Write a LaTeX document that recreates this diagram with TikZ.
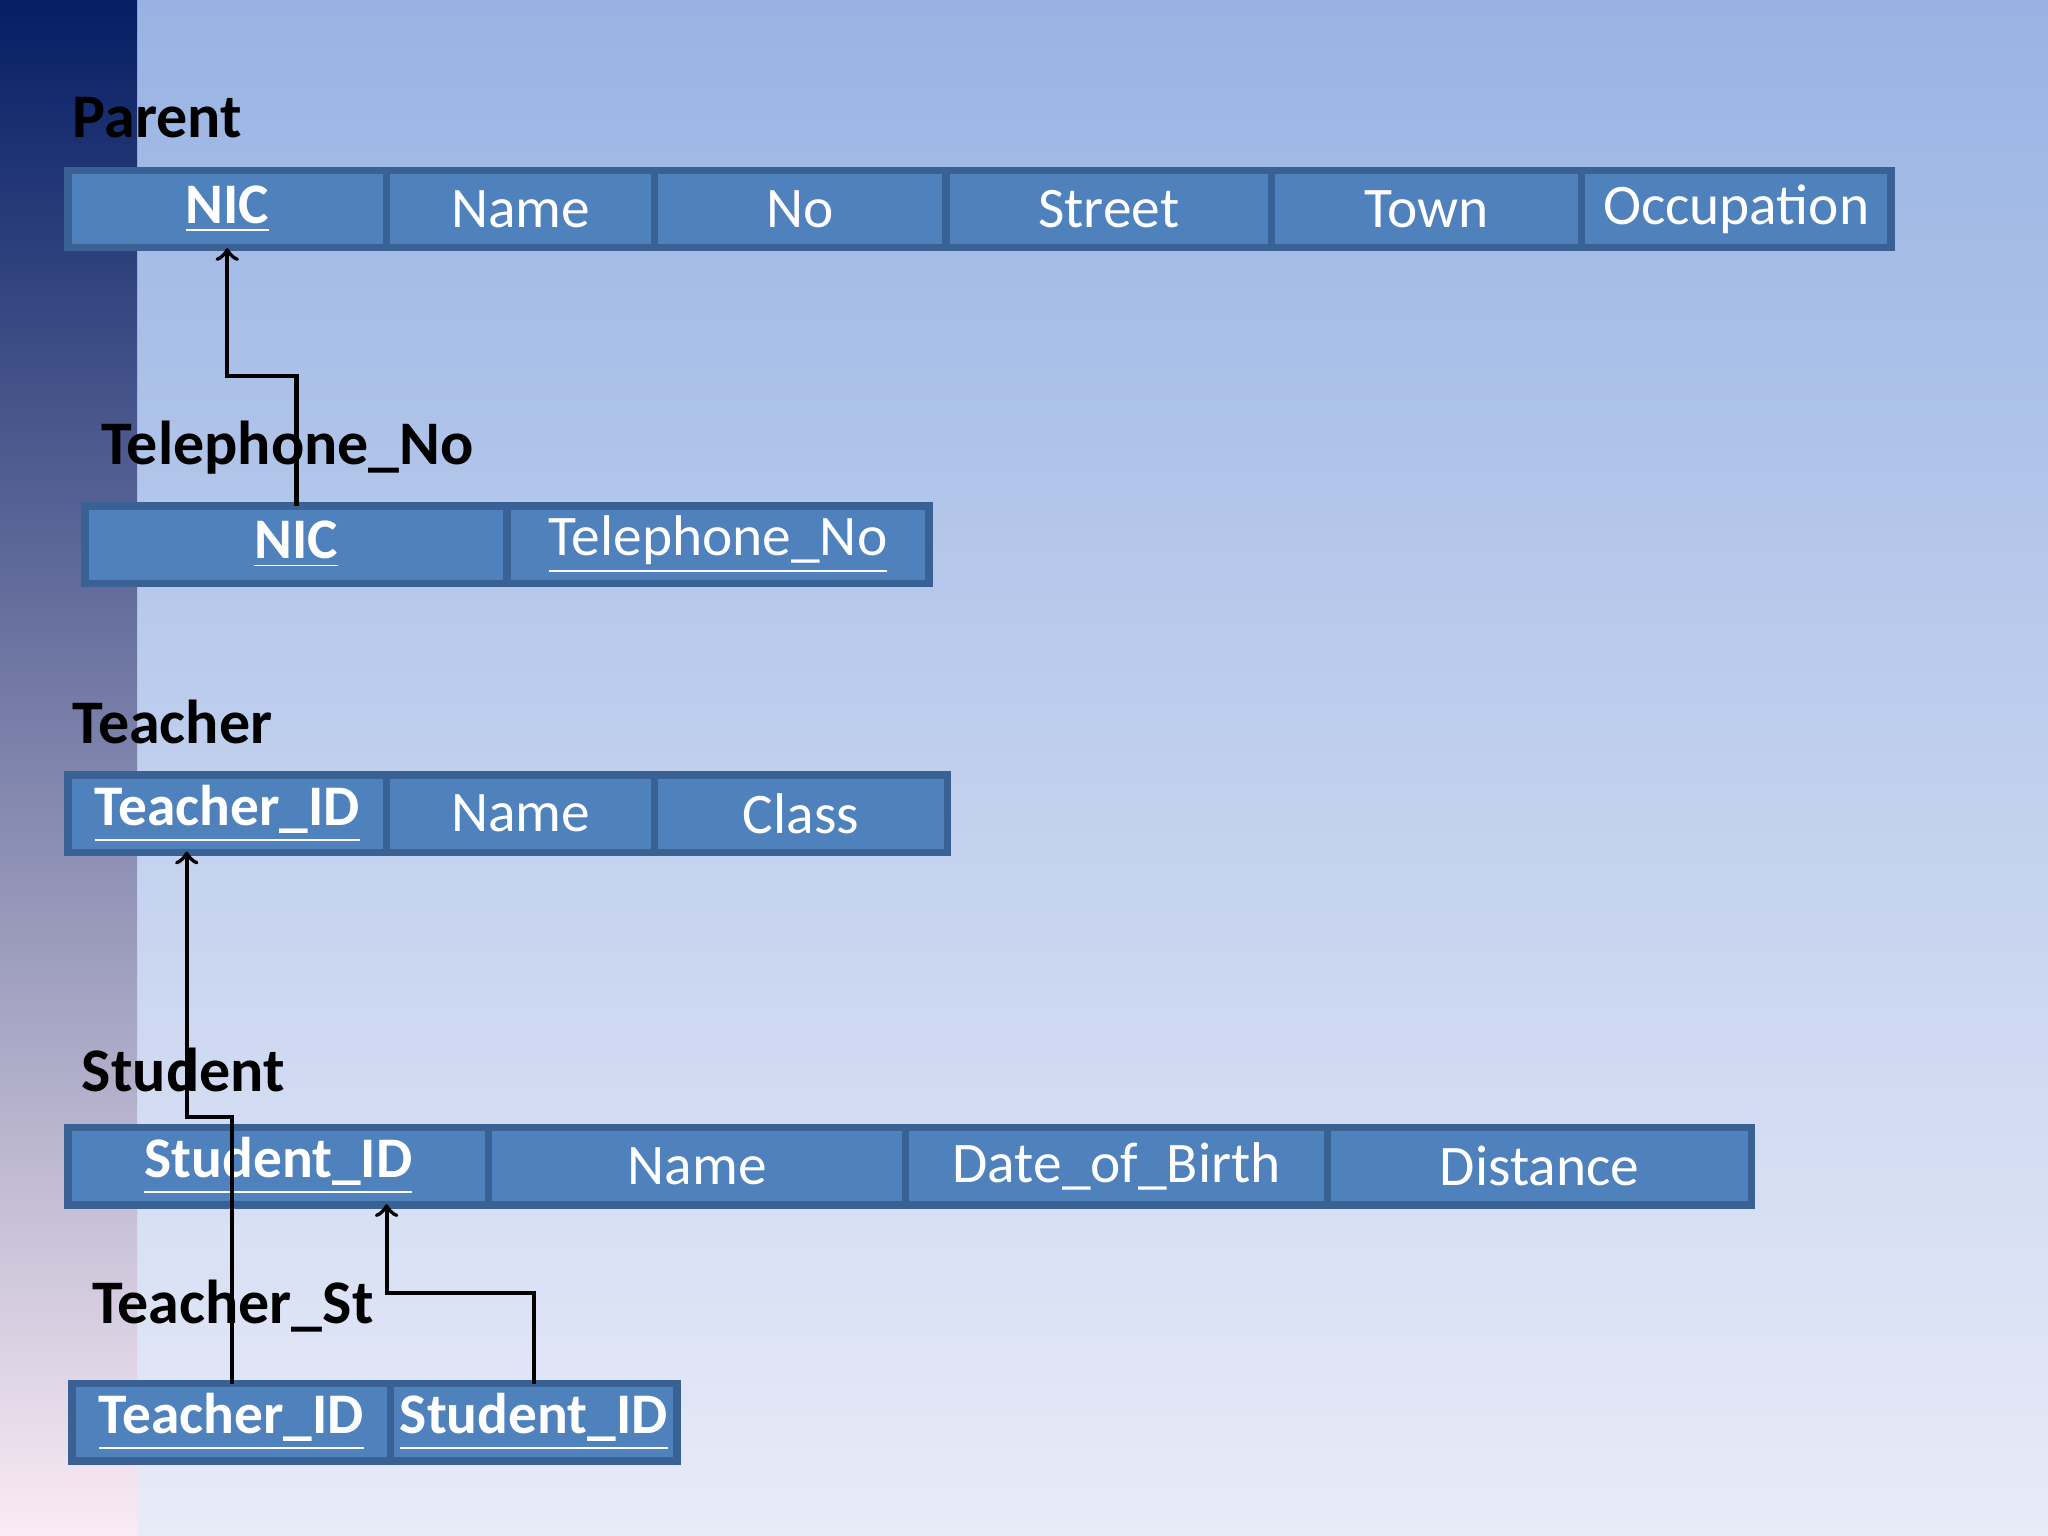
\documentclass[tikz,border=0pt]{standalone}
\usepackage{fontspec}
\setmainfont{Carlito}
\usetikzlibrary{positioning,calc}
\definecolor{cellblue}{HTML}{4F81BD}
\definecolor{celledge}{HTML}{3A6194}
\begin{document}
\begin{tikzpicture}[x=0.01cm,y=-0.01cm, node distance=0pt, >=to,
cell/.style={draw=celledge, line width=1.6pt, fill=cellblue, text=white, font=\fontsize{12.5}{14}\selectfont, minimum height=0.59cm, inner sep=0pt, outer sep=0pt, anchor=west},
title/.style={anchor=west, font=\bfseries\fontsize{13.5}{16}\selectfont, inner sep=0pt},
fk/.style={->, line width=0.9pt}
]
% background
\shade[top color=white!40!blue!30!cyan!45!white, bottom color=blue!8!white] (0,0) rectangle (1568,1176);
\shade[top color={rgb,255:red,152;green,179;blue,227}, bottom color={rgb,255:red,232;green,235;blue,248}] (105,0) rectangle (1568,1176);
\shade[top color={rgb,255:red,5;green,30;blue,100}, middle color={rgb,255:red,125;green,185;blue,250}, bottom color={rgb,255:red,250;green,235;blue,245}] (0,0) rectangle (105,1176);
\useasboundingbox (0,0) rectangle (1568,1176);

% Parent
\node (tParent) [title] at (55,90) {Parent};
\node (pNIC) [cell, minimum width=2.44cm] at (52,160) {\textbf{\underline{NIC}}};
\node (pName) [cell, minimum width=2.05cm, right=of pNIC] {Name};
\node (pNo) [cell, minimum width=2.23cm, right=of pName] {No};
\node (pStreet) [cell, minimum width=2.49cm, right=of pNo] {Street};
\node (pTown) [cell, minimum width=2.37cm, right=of pStreet] {Town};
\node (pOcc) [cell, minimum width=2.37cm, right=of pTown] {Occupation};

% Telephone_No
\node (tTel) [title] at (77,343) {Telephone\_No};
\node (tNIC) [cell, minimum width=3.23cm] at (65,417) {\textbf{\underline{NIC}}};
\node (tTelNo) [cell, minimum width=3.23cm, right=of tNIC] {\underline{Telephone\_No}};

% Teacher
\node (tTeacher) [title] at (55,553) {Teacher};
\node (teID) [cell, minimum width=2.44cm] at (52,623) {\textbf{\underline{Teacher\_ID}}};
\node (teName) [cell, minimum width=2.05cm, right=of teID] {Name};
\node (teClass) [cell, minimum width=2.24cm, right=of teName] {Class};

% Student
\node (tStudent) [title] at (62,819) {Student};
\node (stID) [cell, minimum width=3.22cm] at (52,893) {\textbf{\underline{Student\_ID}}};
\node (stName) [cell, minimum width=3.19cm, right=of stID] {Name};
\node (stDob) [cell, minimum width=3.23cm, right=of stName] {Date\_of\_Birth};
\node (stDist) [cell, minimum width=3.24cm, right=of stDob] {Distance};

% Teacher_St
\node (tTS) [title] at (70,1000) {Teacher\_St};
\node (tsT) [cell, minimum width=2.44cm] at (55,1089) {\textbf{\underline{Teacher\_ID}}};
\node (tsS) [cell, minimum width=2.19cm, right=of tsT] {\textbf{\underline{Student\_ID}}};

% foreign keys
\draw[fk] ($(tNIC.north)+(0.4,0)$) |- (174,288) -- (174,190);
\draw[fk] ($(tsT.north)+(0.5,0)$) |- (143,855) -- (143,652);
\draw[fk] ($(tsS.north)+(0.22,0)$) |- (296,990) -- (296,922);
\end{tikzpicture}
\end{document}
